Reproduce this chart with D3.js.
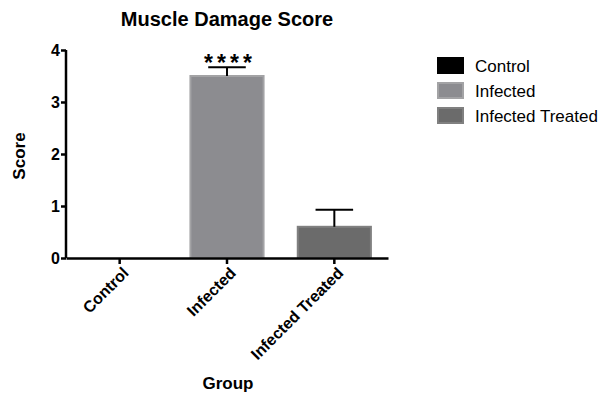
<!DOCTYPE html>
<html>
<head>
<meta charset="utf-8">
<script src="https://cdn.jsdelivr.net/npm/d3@7"></script>
<style>
  body { margin: 0; background: #fff; }
  text { font-family: "Liberation Sans", Arial, Helvetica, sans-serif; }
</style>
</head>
<body>
<svg id="chart"></svg>
<script>
// data
const groups = ["Control", "Infected", "Infected Treated"];
const means = [0, 3.5, 0.6];
const errors = [0, 0.17, 0.33];
const stars = ["", "****", ""];
const fills = ["#000000", "#8c8c90", "#6b6b6b"];
const strokes = ["#000000", "#a3a3a5", "#808080"];
const yTicks = [0, 1, 2, 3, 4];

const width = 602, height = 394;
const margin = {top: 50, right: 214, bottom: 136, left: 66};

const svg = d3.select("#chart")
    .attr("width", width)
    .attr("height", height);

const g = svg.append("g")
    .attr("transform", "translate(" + margin.left + "," + margin.top + ")");

const innerW = width - margin.left - margin.right;
const innerH = height - margin.top - margin.bottom;

// scales
const x = d3.scaleBand()
    .domain(groups)
    .range([0, innerW])
    .paddingInner(0.3)
    .paddingOuter(0.15);

const y = d3.scaleLinear()
    .domain([0, 4])
    .range([innerH, 0]);

// bars
g.selectAll(".bar")
    .data(groups)
    .enter().append("rect")
        .attr("class", "bar")
        .attr("x", d => x(d) + 1)
        .attr("width", x.bandwidth() - 2)
        .attr("y", (d, i) => y(means[i]))
        .attr("height", (d, i) => innerH - y(means[i]))
        .attr("fill", (d, i) => fills[i])
        .attr("stroke", (d, i) => strokes[i])
        .attr("stroke-width", 2);

// error bars (upper only)
const capW = x.bandwidth() * 0.5;
groups.forEach((d, i) => {
    if (errors[i] === 0) return;
    const cx = x(d) + x.bandwidth() / 2;
    g.append("line")
        .attr("x1", cx).attr("x2", cx)
        .attr("y1", y(means[i])).attr("y2", y(means[i] + errors[i]))
        .attr("stroke", "#000").attr("stroke-width", 2);
    g.append("line")
        .attr("x1", cx - capW / 2).attr("x2", cx + capW / 2)
        .attr("y1", y(means[i] + errors[i])).attr("y2", y(means[i] + errors[i]))
        .attr("stroke", "#000").attr("stroke-width", 2);
    if (stars[i]) {
        g.append("text")
            .attr("x", cx + 3)
            .attr("y", y(means[i] + errors[i]) + 4)
            .attr("text-anchor", "middle")
            .style("font-size", "23px")
            .style("font-weight", "bold")
            .style("letter-spacing", "4px")
            .text(stars[i]);
    }
});

// axes
const yAxis = g.append("g")
    .call(d3.axisLeft(y).tickValues(yTicks).tickSize(5).tickFormat(d3.format("d")));
yAxis.select(".domain").attr("d", "M0," + innerH + "V0");

const xAxis = g.append("g")
    .attr("transform", "translate(0," + innerH + ")")
    .call(d3.axisBottom(x).tickSize(6).tickSizeOuter(0));

[yAxis, xAxis].forEach(a => {
    a.select(".domain").attr("stroke-width", 2.5);
    a.selectAll(".tick line").attr("stroke-width", 2.5);
    a.selectAll("text")
        .style("font-family", '"Liberation Sans", Arial, sans-serif')
        .style("font-size", "16px")
        .style("font-weight", "bold")
        .attr("fill", "#000");
});

yAxis.selectAll("text").attr("x", -6).attr("dy", "0.36em");

xAxis.selectAll("text")
    .attr("text-anchor", "end")
    .attr("dy", "0.35em")
    .attr("transform", "translate(6,12) rotate(-45)")
    .attr("x", 0)
    .attr("y", 0);

// title and axis labels
svg.append("text")
    .attr("x", 227)
    .attr("y", 26)
    .attr("text-anchor", "middle")
    .style("font-size", "20px")
    .style("font-weight", "bold")
    .text("Muscle Damage Score");

svg.append("text")
    .attr("transform", "translate(25,156) rotate(-90)")
    .attr("text-anchor", "middle")
    .style("font-size", "17px")
    .style("font-weight", "bold")
    .text("Score");

svg.append("text")
    .attr("x", 228)
    .attr("y", 389)
    .attr("text-anchor", "middle")
    .style("font-size", "17px")
    .style("font-weight", "bold")
    .text("Group");

// legend
const legend = svg.append("g")
    .attr("transform", "translate(438,58)");

groups.forEach((d, i) => {
    const row = legend.append("g")
        .attr("transform", "translate(0," + (i * 25) + ")");
    row.append("rect")
        .attr("width", 25)
        .attr("height", 15)
        .attr("fill", fills[i])
        .attr("stroke", strokes[i])
        .attr("stroke-width", 2);
    row.append("text")
        .attr("x", 37)
        .attr("y", 14)
        .style("font-size", "17px")
        .text(d);
});
</script>
</body>
</html>
